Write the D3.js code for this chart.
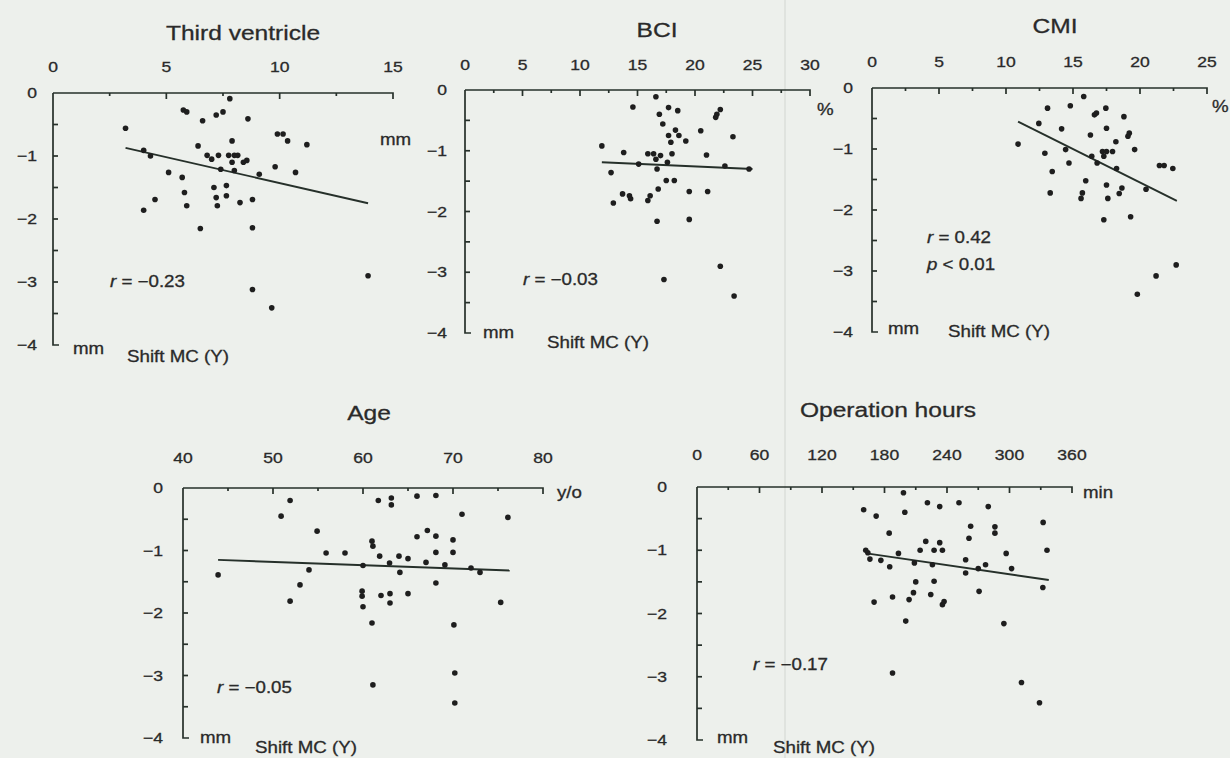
<!DOCTYPE html>
<html lang="en">
<head>
<meta charset="utf-8">
<title>Shift MC (Y) correlations</title>
<script src="https://d3js.org/d3.v7.min.js"></script>
<style>
  html, body { margin: 0; padding: 0; background: #edf0ec; }
  svg { display: block; }
  .lbl { font-family: "Liberation Sans", Arial, Helvetica, sans-serif; fill: #2a2a2a; stroke: #2a2a2a; stroke-width: 0.3; }
  .axis { stroke: #26302a; stroke-width: 1.7; fill: none; }
  .fit { stroke: #26302a; stroke-width: 1.9; }
  .dot { fill: #1e1e1e; }
</style>
</head>
<body>
<div id="chart"></div>
<script>
// ---- data (x value, shift MC (Y) in mm) ----
var thirdVentricle = [
  [3.2,-0.56],[4.0,-0.91],[4.3,-1.0],[4.0,-1.86],[4.5,-1.69],[5.1,-1.26],[5.7,-1.34],[5.75,-0.27],
  [5.9,-0.30],[5.8,-1.58],[5.9,-1.79],[6.4,-0.84],[6.6,-0.44],[6.5,-2.15],[6.8,-0.99],[7.0,-1.05],
  [7.1,-1.5],[7.2,-1.66],[7.25,-1.79],[7.2,-0.35],[7.5,-0.30],[7.3,-0.99],[7.4,-1.21],[7.65,-1.47],
  [7.65,-1.63],[7.8,-0.09],[7.9,-0.76],[7.75,-0.99],[7.9,-1.1],[8.0,-0.99],[8.15,-0.99],[8.0,-1.23],
  [8.25,-1.74],[8.4,-1.1],[8.55,-1.07],[8.6,-0.41],[8.8,-1.69],[8.8,-2.14],[8.8,-3.12],[9.1,-1.29],
  [9.65,-3.41],[9.8,-1.17],[9.9,-0.65],[10.15,-0.65],[10.35,-0.76],[10.7,-1.26],[11.2,-0.82],[13.9,-2.9]
];
var thirdFit = [[3.2,-0.87],[13.9,-1.75]];

var bci = [
  [11.9,-0.92],[12.7,-1.36],[12.9,-1.86],[13.7,-1.71],[13.8,-1.03],[14.3,-1.74],[14.4,-1.79],[14.6,-0.28],
  [15.1,-1.22],[15.9,-1.05],[15.9,-1.82],[16.1,-1.74],[16.4,-1.05],[16.6,-1.14],[16.6,-0.11],[16.7,-2.16],
  [16.7,-1.3],[16.8,-1.63],[16.9,-0.4],[17.0,-1.08],[17.2,-0.56],[17.3,-3.12],[17.5,-1.49],[17.6,-1.19],
  [17.7,-0.29],[17.7,-0.75],[17.9,-0.86],[18.0,-1.05],[18.2,-1.49],[18.3,-0.66],[18.5,-0.34],[18.6,-0.75],
  [19.2,-0.84],[19.5,-1.67],[19.5,-2.13],[20.5,-0.67],[21.0,-1.07],[21.1,-1.67],[21.8,-0.45],[21.9,-0.40],
  [22.2,-0.32],[22.2,-2.9],[22.6,-1.25],[23.3,-0.77],[23.4,-3.39],[24.7,-1.3]
];
var bciFit = [[11.9,-1.19],[25.0,-1.30]];

var cmi = [
  [10.9,-0.92],[12.45,-0.58],[12.9,-1.07],[13.1,-0.33],[13.45,-1.37],[13.3,-1.72],[14.15,-0.67],[14.45,-1.01],
  [14.7,-1.23],[14.8,-0.29],[15.6,-1.81],[15.7,-1.72],[15.8,-0.14],[15.95,-1.52],[16.3,-0.77],[16.4,-1.12],
  [16.6,-0.44],[16.75,-0.41],[16.8,-1.23],[17.2,-1.04],[17.3,-1.12],[17.3,-2.16],[17.45,-0.33],[17.5,-0.66],
  [17.5,-1.04],[17.5,-1.59],[17.6,-1.81],[17.95,-1.04],[18.2,-0.88],[18.25,-1.32],[18.45,-1.73],[18.65,-1.64],
  [18.8,-0.47],[19.1,-0.79],[19.2,-0.74],[19.3,-2.11],[19.6,-1.01],[19.8,-3.38],[20.45,-1.66],[21.2,-3.08],
  [21.45,-1.27],[21.8,-1.27],[22.45,-1.32],[22.7,-2.9]
];
var cmiFit = [[10.9,-0.55],[22.75,-1.85]];

var age = [
  [43.9,-1.39],[50.9,-0.45],[51.9,-0.2],[51.9,-1.81],[53.0,-1.55],[54.0,-1.31],[54.9,-0.69],[55.9,-1.04],
  [58.0,-1.04],[60.0,-1.24],[59.9,-1.65],[59.9,-1.73],[60.0,-1.9],[61.0,-0.85],[61.1,-0.93],[61.0,-2.16],
  [61.1,-3.15],[61.7,-0.2],[61.85,-1.09],[62.0,-1.72],[63.15,-0.16],[63.15,-0.27],[62.95,-1.2],[63.0,-1.69],
  [63.0,-1.84],[64.0,-1.09],[64.1,-1.35],[65.0,-1.13],[65.0,-1.69],[66.0,-0.13],[66.0,-0.78],[67.0,-1.19],
  [67.15,-0.68],[68.1,-0.12],[68.1,-0.77],[68.1,-1.03],[68.1,-1.52],[69.1,-1.23],[70.0,-0.83],[70.0,-1.03],
  [70.1,-2.19],[70.2,-2.96],[70.2,-3.44],[71.0,-0.42],[72.0,-1.28],[73.0,-1.35],[75.3,-1.83],[76.1,-0.47]
];
var ageFit = [[43.9,-1.15],[76.3,-1.32]];

var operationMin = [
  [160,-0.36],[162,-1.0],[164,-1.04],[166,-1.14],[170,-1.82],[172,-0.46],[176.5,-1.16],[184.5,-0.73],
  [185,-1.26],[187.7,-1.74],[187.7,-2.94],[193.4,-1.05],[198.2,-0.09],[199.5,-0.4],[200.4,-2.12],[203.6,-1.78],
  [207.8,-1.67],[208.7,-1.2],[210,-1.5],[214.2,-1.0],[219.6,-0.86],[221.2,-0.25],[224.4,-1.7],[226,-1.23],
  [227.6,-1.49],[227.6,-1.0],[233,-0.31],[233,-0.88],[235.6,-1.0],[235.6,-1.86],[237.2,-1.81],[251.5,-0.25],
  [257.9,-1.15],[257.9,-1.36],[261.1,-0.81],[262.7,-0.62],[270,-1.29],[270.8,-1.65],[277,-1.23],[279.6,-0.31],
  [286,-0.63],[286,-0.73],[294.6,-2.16],[296.8,-1.05],[302,-1.29],[311.5,-3.09],[328.8,-3.41],[332,-1.59],
  [332.3,-0.56],[336,-1.0]
];
var operationFit = [[162.8,-1.05],[337.7,-1.47]];

var yTicks = [0, -1, -2, -3, -4];

// ---- layout (pixel boxes of the five panels) ----
var panels = [
  { title: "Third ventricle", data: thirdVentricle, fit: thirdFit, xDomain: [0, 15], xTicks: [0, 5, 10, 15],
    unit: "mm", stats: [["r", " = −0.23"]],
    box: {left: 53, right: 393, top: 93, bottom: 345}, tickGap: 21, yGap: 16,
    titlePos: [243, 40], unitPos: [380, 145], statPos: [110, 287], mmPos: [73, 354], shiftPos: [127, 362] },
  { title: "BCI", data: bci, fit: bciFit, xDomain: [0, 30], xTicks: [0, 5, 10, 15, 20, 25, 30],
    unit: "%", stats: [["r", " = −0.03"]],
    box: {left: 465, right: 810, top: 90, bottom: 333}, tickGap: 20, yGap: 18,
    titlePos: [657, 37], unitPos: [817, 115], statPos: [523, 285], mmPos: [483, 338], shiftPos: [547, 348] },
  { title: "CMI", data: cmi, fit: cmiFit, xDomain: [0, 25], xTicks: [0, 5, 10, 15, 20, 25],
    unit: "%", stats: [["r", " = 0.42"], ["p", " < 0.01"]],
    box: {left: 872, right: 1207, top: 88, bottom: 332}, tickGap: 21, yGap: 19,
    titlePos: [1055, 33], unitPos: [1212, 112], statPos: [927, 243], mmPos: [888, 334], shiftPos: [948, 337] },
  { title: "Age", data: age, fit: ageFit, xDomain: [40, 80], xTicks: [40, 50, 60, 70, 80],
    unit: "y/o", stats: [["r", " = −0.05"]],
    box: {left: 183, right: 543, top: 488, bottom: 738}, tickGap: 25, yGap: 20,
    titlePos: [369, 420], unitPos: [557, 498], statPos: [217, 693], mmPos: [200, 743], shiftPos: [255, 753] },
  { title: "Operation hours", data: operationMin, fit: operationFit, xDomain: [0, 360], xTicks: [0, 60, 120, 180, 240, 300, 360],
    unit: "min", stats: [["r", " = −0.17"]],
    box: {left: 697, right: 1072, top: 487, bottom: 740}, tickGap: 27, yGap: 30,
    titlePos: [888, 417], unitPos: [1083, 498], statPos: [753, 670], mmPos: [717, 743], shiftPos: [773, 753] }
];

var width = 1230, height = 758;
var stretch = 1.17; // the scanned lettering is a little wider than it is tall

var svg = d3.select("#chart").append("svg")
    .attr("width", width)
    .attr("height", height);

svg.append("rect").attr("width", width).attr("height", height).attr("fill", "#edf0ec");
// faint fold line of the scanned page
svg.append("line").attr("x1", 785).attr("x2", 785).attr("y1", 0).attr("y2", height)
    .attr("stroke", "#d2d6d1").attr("stroke-width", 1);

function label(parent, x, y, anchor, size) {
  return parent.append("text")
      .attr("class", "lbl")
      .attr("transform", "translate(" + x + "," + y + ") scale(" + stretch + ",1)")
      .attr("text-anchor", anchor)
      .style("font-size", size + "px");
}

panels.forEach(function(p) {
  var b = p.box;
  var x = d3.scaleLinear().domain(p.xDomain).range([b.left, b.right]);
  var y = d3.scaleLinear().domain([0, -4]).range([b.top, b.bottom]);
  var g = svg.append("g");

  // top x axis, ticks pointing down into the plot
  var step = p.xTicks[1] - p.xTicks[0];
  var minor = d3.range(p.xDomain[0] + step / 2, p.xDomain[1], step);
  g.append("path").attr("class", "axis")
      .attr("d", "M" + b.left + "," + b.top + "H" + b.right + "v6");
  g.selectAll(".xt").data(p.xTicks.slice(1, -1)).enter().append("line")
      .attr("class", "axis")
      .attr("x1", function(d) { return x(d); }).attr("x2", function(d) { return x(d); })
      .attr("y1", b.top).attr("y2", b.top + 6);
  g.selectAll(".xm").data(minor).enter().append("line")
      .attr("class", "axis")
      .attr("x1", function(d) { return x(d); }).attr("x2", function(d) { return x(d); })
      .attr("y1", b.top).attr("y2", b.top + 3);
  p.xTicks.forEach(function(t) {
    label(g, x(t), b.top - p.tickGap, "middle", 15).text(t);
  });

  // left y axis, ticks pointing right
  g.append("path").attr("class", "axis")
      .attr("d", "M" + b.left + "," + b.top + "V" + b.bottom + "h6");
  g.selectAll(".yt").data(d3.range(-0.5, -4, -0.5)).enter().append("line")
      .attr("class", "axis")
      .attr("x1", b.left).attr("x2", b.left + 5)
      .attr("y1", function(d) { return y(d); }).attr("y2", function(d) { return y(d); });
  yTicks.forEach(function(t) {
    label(g, b.left - p.yGap, y(t) + 5, "end", 15).text(t === 0 ? "0" : "−" + Math.abs(t));
  });

  // regression line
  g.append("line").attr("class", "fit")
      .attr("x1", x(p.fit[0][0])).attr("y1", y(p.fit[0][1]))
      .attr("x2", x(p.fit[1][0])).attr("y2", y(p.fit[1][1]));

  // points
  g.selectAll("circle").data(p.data).enter().append("circle")
      .attr("class", "dot")
      .attr("cx", function(d) { return x(d[0]); })
      .attr("cy", function(d) { return y(d[1]); })
      .attr("r", 2.8);

  // texts
  label(g, p.titlePos[0], p.titlePos[1], "middle", 21).text(p.title);
  label(g, p.unitPos[0], p.unitPos[1], "start", 16).text(p.unit);
  label(g, p.mmPos[0], p.mmPos[1], "start", 16).text("mm");
  label(g, p.shiftPos[0], p.shiftPos[1], "start", 16).text("Shift MC (Y)");
  p.stats.forEach(function(s, i) {
    var t = label(g, p.statPos[0], p.statPos[1] + i * 27, "start", 16);
    t.append("tspan").style("font-style", "italic").text(s[0]);
    t.append("tspan").text(s[1]);
  });
});
</script>
</body>
</html>
